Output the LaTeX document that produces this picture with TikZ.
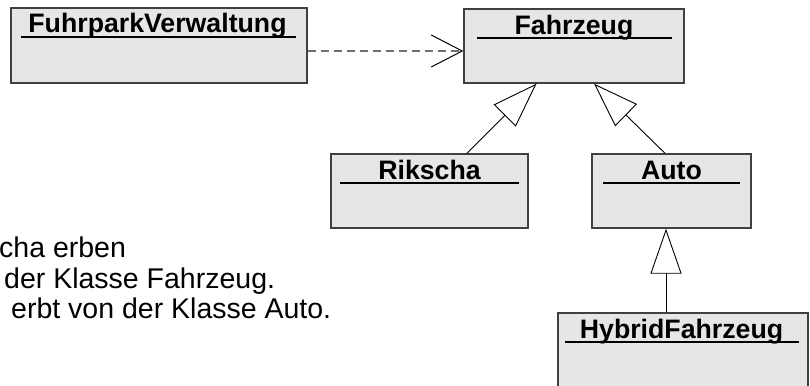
\documentclass[tikz,border=0pt]{standalone}
\usepackage{fontspec}
\setmainfont{Liberation Sans}
\usetikzlibrary{arrows.meta}
\definecolor{boxfill}{HTML}{E6E6E6}
\definecolor{boxline}{HTML}{404040}
\definecolor{dashgray}{HTML}{707070}
\tikzset{
  cls/.style={draw=boxline, fill=boxfill, line width=1.4pt, rectangle, inner sep=0pt},
  lbl/.style={font=\fontsize{26.7}{30}\selectfont\bfseries, anchor=base, inner sep=0pt},
  ul/.style={line width=2pt, black},
  note/.style={font=\fontsize{28.5}{32}\selectfont, anchor=base west, inner sep=0pt},
  inh/.style={line width=0.9pt, -{Triangle[open, length=45pt, width=31pt]}},
  dep/.style={dashgray, line width=1.2pt, dash pattern=on 8pt off 5pt,
    -{Straight Barb[length=31pt, width=32pt, color=black, line width=1pt]}},
}
\begin{document}
\begin{tikzpicture}[x=1pt,y=-1pt]
\useasboundingbox (0,0) rectangle (810,385);
\clip (0,0) rectangle (810,385);
\fill[white] (0,0) rectangle (810,385);

% classes
\node[cls, minimum width=296pt, minimum height=75pt] (fp) at (159,45.5) {};
\node[cls, minimum width=220pt, minimum height=74pt] (fz) at (574,46) {};
\node[cls, minimum width=197pt, minimum height=74pt] (rik) at (429.5,191) {};
\node[cls, minimum width=159pt, minimum height=74pt] (auto) at (671.5,191) {};
\node[cls, minimum width=250pt, minimum height=75pt] (hy) at (683,350.5) {};

% labels
\node[lbl] (fpl) at ([xshift=-1.5pt,yshift=-25.5pt]fp.north) {FuhrparkVerwaltung};
\node[lbl] (fzl) at ([yshift=-26pt]fz.north) {Fahrzeug};
\node[lbl] (rikl) at ([yshift=-26pt]rik.north) {Rikscha};
\node[lbl] (autol) at ([yshift=-26pt]auto.north) {Auto};
\node[lbl] (hyl) at ([xshift=-1.5pt,yshift=-26pt]hy.north) {HybridFahrzeug};

% underlines
\draw[ul] ([xshift=11pt,yshift=-29.5pt]fp.north west) -- ([xshift=-12pt,yshift=-29.5pt]fp.north east);
\draw[ul] ([xshift=14pt,yshift=-29.5pt]fz.north west) -- ([xshift=-13pt,yshift=-29.5pt]fz.north east);
\draw[ul] ([xshift=10pt,yshift=-29.5pt]rik.north west) -- ([xshift=-10pt,yshift=-29.5pt]rik.north east);
\draw[ul] ([xshift=12pt,yshift=-29.5pt]auto.north west) -- ([xshift=-12pt,yshift=-29.5pt]auto.north east);
\draw[ul] ([xshift=8pt,yshift=-29.5pt]hy.north west) -- ([xshift=-10pt,yshift=-29.5pt]hy.north east);

% dependency
\draw[dep] ([yshift=-5.5pt]fp.east) -- ([yshift=-5pt]fz.west);

% inheritance
\draw[inh] (rik) -- (fz);
\draw[inh] ([xshift=-6.5pt]auto.north) -- ([xshift=20pt]fz.south);
\coordinate (ahx) at ([xshift=-5.5pt]auto.south);
\draw[inh] (ahx |- hy.north) -- (ahx);

% note text
\node[note] (n1) at (-1,257) {cha erben};
\node[note] (n2) at (4,288) {der Klasse Fahrzeug.};
\node[note] (n3) at (11,318) {erbt von der Klasse Auto.};
\end{tikzpicture}
\end{document}
